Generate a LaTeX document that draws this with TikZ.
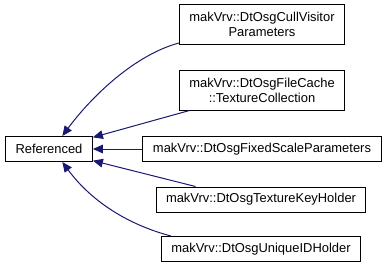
\documentclass[tikz,border=0pt]{standalone}
\usepackage{fontspec}
\setmainfont{Liberation Sans}
\usepackage{xcolor}
\usepackage{tikz}
\usetikzlibrary{positioning, arrows.meta}
\definecolor{edgeblue}{RGB}{25,25,112}

\begin{document}
\begin{tikzpicture}[x=0.75pt, y=-0.75pt,
  cls/.style={draw, line width=0.75pt, fill=white, inner xsep=7.5pt, inner ysep=0pt,
    minimum height=18.75pt, align=center, font=\fontsize{9.7}{11.2}\selectfont},
  inh/.style={edgeblue, line width=0.75pt, -{Triangle[length=7.5pt, width=6.5pt]}}]
  \useasboundingbox (0,0) rectangle (389,269);
  % Classes
  \node[cls] (ref) at (49,149) {Referenced};
  \node[cls, minimum height=30pt] (cull) at (262,24.5) {makVrv::DtOsgCullVisitor\\Parameters};
  \node[cls, minimum height=30pt] (cache) at (262,90) {makVrv::DtOsgFileCache\\::TextureCollection};
  \node[cls] (fixed) at (262,149) {makVrv::DtOsgFixedScaleParameters};
  \node[cls] (texkey) at (261,199.5) {makVrv::DtOsgTextureKeyHolder};
  \node[cls] (uid) at (261,249) {makVrv::DtOsgUniqueIDHolder};
  % Inheritance
  \draw[inh] ([yshift=1.5pt]cull.south west) .. controls +(-45,12) and +(28,-38) .. ([xshift=10pt]ref.north);
  \draw[inh] ([xshift=8pt]cache.south west) -- ([yshift=-1pt]ref.north east);
  \draw[inh] (fixed) -- (ref);
  \draw[inh] ([xshift=30pt]texkey.north west) -- ([yshift=1pt]ref.south east);
  \draw[inh] ([xshift=7.5pt]uid.north west) .. controls +(-45,-12) and +(28,38) .. ([xshift=10pt]ref.south);
\end{tikzpicture}
\end{document}
